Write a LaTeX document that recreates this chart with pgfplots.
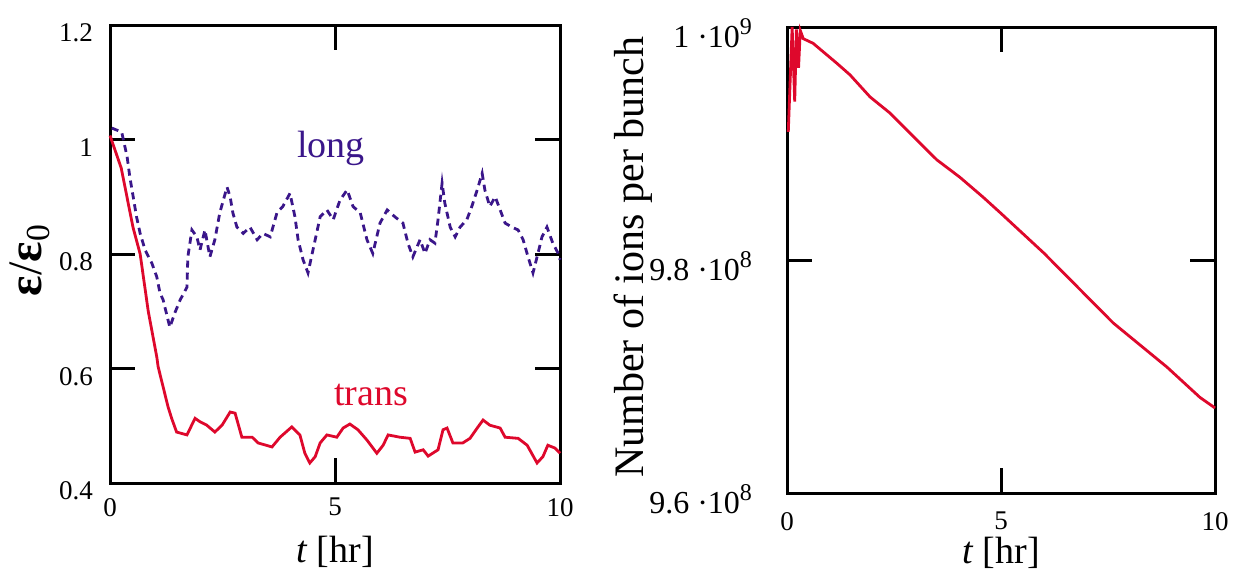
\documentclass[border=0pt]{standalone}
\usepackage{fontspec}
\setmainfont{Liberation Serif}
\usepackage{pgfplots}
\pgfplotsset{compat=1.18}

\definecolor{longcol}{RGB}{58,22,138}
\definecolor{transcol}{RGB}{222,8,44}

\newcommand{\sip}[1]{\raisebox{0.42em}{\fontsize{12}{12}\selectfont #1}}

\pgfplotsset{
  myaxis/.style={
    scale only axis,
    axis line style={line width=1.5pt},
    tick style={line width=1.5pt, black},
    major tick length=12.5pt,
    tick align=inside,
    xmin=0, xmax=10,
    xtick={0,5,10},
    clip=false,
    /pgf/number format/assume math mode=true,
    ticklabel style={font=\fontsize{13.5}{13.5}\selectfont},
    xlabel={\textit{t} [hr]},
    xlabel style={font=\fontsize{19}{19}\selectfont, at={(axis description cs:0.5,0)}, anchor=base},
  }
}

\begin{document}
\begin{tikzpicture}
\useasboundingbox (0,0) rectangle (620.5pt,287.5pt);

% left: emittance
\begin{axis}[myaxis,
    at={(55pt,46pt)}, anchor=south west,
    width=225pt, height=229pt,
    ymin=0.4, ymax=1.2,
    ytick={0.4,0.6,0.8,1,1.2},
    yticklabels={0.4,0.6,0.8,1,1.2},
    yticklabel style={xshift=-5pt, yshift=-4pt},
    xticklabel style={yshift=-4pt},
    xlabel style={yshift=-39.5pt},
    ylabel={\textbf{ε}/\textbf{ε}\textsubscript{0}},
    ylabel style={font=\fontsize{24}{24}\selectfont, at={(axis description cs:-0.178,0.487)}, anchor=center},
]
\addplot[longcol, line width=1.4pt, dash pattern=on 3.5pt off 2.5pt] coordinates {
(0.04,1.02) (0.26,1.013) (0.38,0.97) (0.44,0.935) (0.59,0.865) (0.67,0.836)
(0.78,0.807) (0.93,0.784) (1.04,0.76) (1.11,0.732) (1.18,0.72) (1.33,0.672)
(1.44,0.697) (1.56,0.72) (1.71,0.742) (1.73,0.795) (1.82,0.842) (1.93,0.83)
(2.0,0.807) (2.11,0.842) (2.22,0.795) (2.33,0.825) (2.44,0.872) (2.6,0.917)
(2.67,0.90) (2.73,0.872) (2.82,0.847) (2.96,0.836) (3.11,0.847) (3.27,0.825)
(3.4,0.836) (3.56,0.83) (3.71,0.872) (3.84,0.883) (4.0,0.906) (4.11,0.865)
(4.18,0.825) (4.29,0.79) (4.4,0.767) (4.51,0.807) (4.67,0.865) (4.82,0.877)
(4.96,0.86) (5.11,0.894) (5.27,0.912) (5.4,0.883) (5.56,0.872) (5.71,0.825)
(5.84,0.801) (6.0,0.854) (6.16,0.877) (6.33,0.865) (6.51,0.854) (6.62,0.819)
(6.73,0.795) (6.89,0.825) (7.0,0.801) (7.11,0.825) (7.22,0.819) (7.29,0.86)
(7.38,0.924) (7.44,0.889) (7.56,0.847) (7.67,0.83) (7.78,0.847) (7.93,0.86)
(8.04,0.883) (8.16,0.912) (8.27,0.941) (8.33,0.912) (8.44,0.883) (8.56,0.90)
(8.67,0.877) (8.78,0.854) (8.93,0.847) (9.07,0.842) (9.18,0.825) (9.29,0.795)
(9.4,0.767) (9.51,0.801) (9.6,0.83) (9.71,0.847) (9.84,0.819) (9.96,0.801)
(10.0,0.79)
};
\addplot[transcol, line width=1.4pt] coordinates {
(0.0,1.007) (0.25,0.95) (0.51,0.847) (0.67,0.80) (0.85,0.70) (1.04,0.62)
(1.07,0.603) (1.29,0.533) (1.37,0.513) (1.48,0.489) (1.71,0.484) (1.89,0.513)
(2.0,0.507) (2.15,0.501) (2.33,0.489) (2.49,0.501) (2.67,0.524) (2.78,0.522)
(2.93,0.480) (3.16,0.48) (3.29,0.470) (3.6,0.463) (3.78,0.48) (4.04,0.498)
(4.22,0.484) (4.33,0.452) (4.44,0.435) (4.56,0.446) (4.67,0.470) (4.82,0.484)
(5.04,0.48) (5.18,0.496) (5.33,0.503) (5.51,0.493) (5.71,0.475) (5.93,0.452)
(6.07,0.466) (6.18,0.484) (6.44,0.48) (6.67,0.478) (6.78,0.454) (6.96,0.458)
(7.07,0.447) (7.29,0.458) (7.40,0.493) (7.49,0.496) (7.62,0.470) (7.84,0.470)
(8.0,0.478) (8.16,0.496) (8.29,0.510) (8.44,0.501) (8.67,0.496) (8.78,0.48)
(9.07,0.478) (9.27,0.466) (9.49,0.435) (9.62,0.446) (9.73,0.466) (9.89,0.461)
(10.0,0.452)
};
\node[longcol, anchor=base, font=\fontsize{19}{19}\selectfont] at (axis cs:4.91,0.969) {long};
\node[transcol, anchor=base, font=\fontsize{19}{19}\selectfont] at (axis cs:5.8,0.536) {trans};
\end{axis}

% right: number of ions
\begin{axis}[myaxis,
    at={(393.5pt,41pt)}, anchor=south west,
    width=214pt, height=233pt,
    ymin=9.6, ymax=10,
    ytick={9.6,9.8,10},
    yticklabels={9.6 ·10\sip{8}, 9.8 ·10\sip{8}, 1 ·10\sip{9}},
    yticklabel style={font=\fontsize{16}{16}\selectfont, xshift=-14pt, yshift=-3pt},
    xticklabel style={yshift=-6pt},
    xlabel style={yshift=-35pt},
    ylabel={Number of ions per bunch},
    ylabel style={font=\fontsize{21}{21}\selectfont, at={(axis description cs:-0.36,0.506)}, anchor=center},
]
\addplot[transcol, line width=1.4pt] coordinates {
(0.03,9.910) (0.12,10.0) (0.18,9.936) (0.22,9.998) (0.27,9.965) (0.31,9.997)
(0.38,9.990) (0.61,9.986) (1.16,9.969) (1.47,9.959) (1.94,9.940) (2.41,9.926)
(2.87,9.909) (3.5,9.886) (4.04,9.871) (4.58,9.854) (5.0,9.840) (6.0,9.806)
(7.08,9.766) (7.62,9.746) (8.88,9.708) (9.65,9.682) (10.0,9.673)
};
\end{axis}
\end{tikzpicture}
\end{document}
